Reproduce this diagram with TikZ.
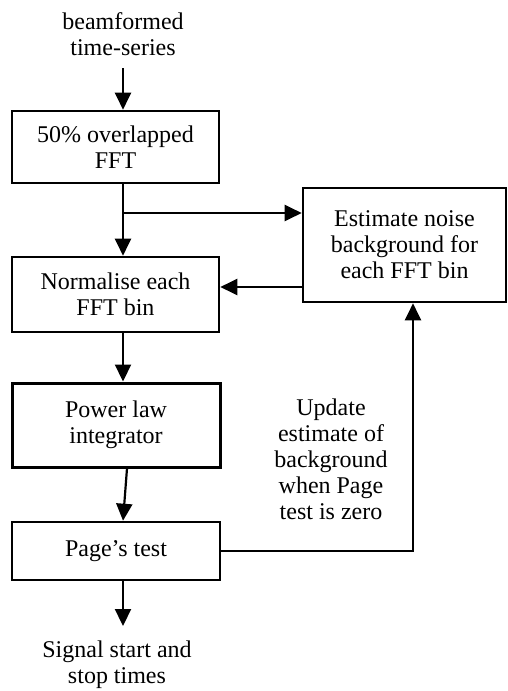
\documentclass[tikz,border=0pt]{standalone}
\usepackage{fontspec}
\setmainfont{Liberation Serif}
\usetikzlibrary{arrows.meta,calc}
\begin{document}
\begin{tikzpicture}[x=1pt,y=-1pt,
  every node/.style={font=\fontsize{24}{26}\selectfont, align=center, inner sep=0pt},
  box/.style={draw, line width=2.6pt, minimum width=#1},
  arr/.style={line width=2.2pt, -{Triangle[width=16pt,length=17pt]}},
  ln/.style={line width=2.2pt}]
\useasboundingbox (0,0) rectangle (507,691);
\fill[white] (0,0) rectangle (507,691);
% text nodes
\node (inp) at (123,34) {beamformed\\time-series};
\node (outp) at (117,665) {Signal start and\\stop times};
\node (upd) at (331,459) {Update\\estimate of\\background\\when Page\\test is zero};
% boxes
\node[box=207pt, minimum height=72pt] (fft) at (115.5,147) {50\% overlapped\\FFT};
\node[box=207pt, minimum height=75pt] (norm) at (115.5,294.5) {Normalise each\\FFT bin};
\node[box=208pt, minimum height=84pt, line width=3pt] (pow) at (116,425) {Power law\\integrator};
\node[box=208pt, minimum height=58pt] (page) at (116,551) {Page's test};
\node[box=203pt, minimum height=114pt] (est) at (404.5,245) {Estimate noise\\background for\\each FFT bin};
% helper coordinates
\coordinate (spine) at (123,0);
\coordinate (br) at (123,213);
\coordinate (fb) at (0,287);
\coordinate (upx) at (413,0);
\coordinate (pwx) at (127,0);
\coordinate (intop) at (123,68);
\coordinate (outend) at (123,626);
% connectors
\draw[arr] (intop) -- (fft.north -| spine);
\draw[arr] (fft.south -| spine) -- (norm.north -| spine);
\draw[arr] (br) -- (br -| est.west);
\draw[arr] (est.west |- fb) -- (norm.east |- fb);
\draw[arr] (norm.south -| spine) -- (pow.north -| spine);
\draw[arr] (pow.south -| pwx) -- (page.north -| spine);
\draw[arr] (page.east) -- (page.east -| upx) -- (est.south -| upx);
\draw[arr] (page.south -| spine) -- (outend);
\end{tikzpicture}
\end{document}
